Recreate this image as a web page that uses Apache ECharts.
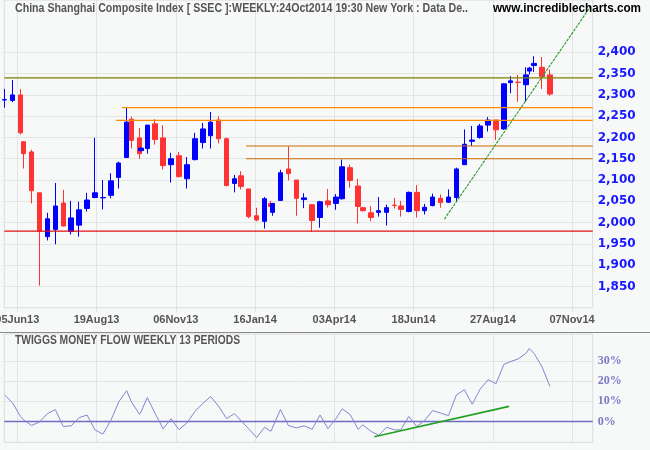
<!DOCTYPE html>
<html><head><meta charset="utf-8">
<script src="https://cdn.jsdelivr.net/npm/echarts@6/dist/echarts.min.js"></script>
<style>html,body{margin:0;padding:0;background:#f7f8f8}#c{width:650px;height:450px}</style>
</head><body><div id="c"></div>
<script>
// ---- data (weekly candles, x = trading-day index of the week's last session) ----
const dayIndex = [0,5,10,12,17,22,27,32,37,42,47,52,57,62,67,72,77,80,85,86,90,95,100,105,110,115,120,125,130,135,140,145,149,154,159,164,168,169,174,179,184,189,194,199,204,209,213,218,223,226,231,236,241,246,250,255,260,265,270,275,280,285,290,295,300,305,310,315,319,324,329,331,334,339,344];
const opens  = [2288,2287,2300,2190,2166,2070,1967,1984,2046,1979,1994,2033,2059,2058,2064,2106,2153,2243,2199,2169,2174,2232,2199,2136,2157,2103,2148,2188,2204,2241,2197,2092,2110,2079,2016,2003,2045,2024,2052,2126,2100,2054,2042,2012,2051,2045,2056,2129,2086,2035,2023,2024,2024,2041,2039,2026,2071,2028,2040,2057,2048,2059,2136,2191,2200,2229,2241,2220,2329,2330,2324,2356,2369,2365,2347];
const closes = [2289,2300,2211,2162,2075,1980,2009,2039,1992,2011,2030,2053,2070,2059,2098,2140,2236,2193,2162,2175,2229,2195,2134,2150,2108,2136,2197,2220,2236,2197,2087,2103,2085,2014,2006,2056,2038,2045,2117,2115,2057,2058,2005,2049,2042,2060,2131,2099,2038,2028,2012,2028,2035,2040,2031,2071,2028,2036,2060,2047,2060,2126,2184,2194,2227,2241,2218,2326,2333,2329,2347,2363,2374,2343,2302];
const lows   = [2270,2283,2207,2127,2045,1852,1958,1949,1991,1972,1967,2026,2057,2031,2057,2080,2153,2174,2150,2167,2162,2183,2125,2094,2106,2080,2146,2174,2174,2186,2085,2071,2078,2010,2003,1986,2033,2016,2052,2099,2016,2034,1979,1988,2035,2030,2054,2082,1998,2026,2003,2014,1993,2033,2014,2024,2012,2019,2038,2035,2046,2048,2136,2180,2197,2214,2194,2218,2304,2284,2284,2348,2354,2314,2298];
const highs  = [2314,2335,2314,2190,2171,2070,2023,2093,2077,2051,2049,2070,2199,2100,2116,2143,2270,2249,2222,2177,2229,2243,2229,2164,2166,2154,2211,2234,2260,2250,2200,2112,2121,2079,2035,2060,2051,2046,2124,2179,2100,2069,2044,2051,2079,2067,2148,2136,2103,2037,2039,2060,2042,2058,2051,2073,2088,2044,2068,2066,2078,2129,2219,2227,2232,2248,2241,2328,2344,2347,2365,2366,2391,2389,2359];
const moneyFlow = [13.2,9.3,2.5,0.8,-2.0,-0.3,3.9,5.9,-2.5,-2.2,1.9,3.2,-4.2,-6.3,0.5,9.8,15.3,9.8,3.6,4.7,11.9,3.9,-3.7,1.4,-4.1,-0.8,4.9,9.0,12.4,7.6,1.4,3.9,0.5,-3.7,-8.0,-2.9,-4.9,-4.6,5.9,-2.0,-3.2,-2.2,-3.9,3.2,-3.6,1.4,6.3,3.4,-3.9,-1.7,-4.9,-6.9,-2.9,-4.2,-4.2,2.5,-2.5,0.5,5.4,4.2,2.9,13.2,15.8,8.6,16.1,20.8,18.8,28.5,29.8,31.2,34.0,36.4,33.9,27.3,17.5];

const xTickDays   = [8,58,108,158,208,258,308,358];
const xTickLabels = ['05Jun13','19Aug13','06Nov13','16Jan14','03Apr14','18Jun14','27Aug14','07Nov14'];
const priceTicks  = [1850,1900,1950,2000,2050,2100,2150,2200,2250,2300,2350,2400];
const flowTicks   = [0,10,20,30];

const levelValues   = [2340, 1980, 2270, 2240, 2180, 2150];
const levelStartDay = [-0.2, -0.2, 74, 70.3, 152.3, 152.3];
const priceTrend = [[277.4, 2008], [369.8, 2508.6]];
const flowTrend  = [[233.2, -7.6], [318.2, 7.5]];

const TITLE = 'China Shanghai Composite Index [ SSEC ]:WEEKLY:24Oct2014 19:30 New York : Data De..';
const SITE = 'www.incrediblecharts.com';
const PANEL2 = 'TWIGGS MONEY FLOW WEEKLY 13 PERIODS';

// ---- chart ----
const SANS = '"Liberation Sans",Arial,sans-serif';
const X_MIN = -0.2, X_MAX = 371;
const grid1 = {left: 4.3, right: 57.3, top: 0, bottom: 142.3};
const grid2 = {left: 4.3, right: 57.3, top: 334, bottom: 7.7};

const measureCtx = document.createElement('canvas').getContext('2d');
function fitScale(text, font, target) {
  measureCtx.font = font;
  return target / measureCtx.measureText(text).width;
}
const titleFont = 'bold 12px ' + SANS;

const candles = dayIndex.map((d, i) => [d, opens[i], closes[i], lows[i], highs[i]]);
const flowData = dayIndex.map((d, i) => [d, moneyFlow[i]]);

const levelColors = ['#808000', '#e01010', '#ff8c00', '#ff8c00', '#cc6a00', '#cc6a00'];
const levelSeries = levelValues.map((v, i) => ({
  type: 'line', xAxisIndex: 0, yAxisIndex: 0, symbol: 'none', silent: true, z: 4,
  data: [[levelStartDay[i], v], [X_MAX, v]],
  lineStyle: {color: levelColors[i], width: 1.2, type: 'solid'}
}));

function xAxisFor(gi, showLabel) {
  return {
    type: 'value', gridIndex: gi, min: X_MIN, max: X_MAX,
    axisLine: {show: false},
    axisTick: {show: true, customValues: xTickDays, length: 4, lineStyle: {color: '#e0e2e2'}},
    axisLabel: {show: showLabel, customValues: xTickDays, margin: 7,
      formatter: v => xTickLabels[xTickDays.indexOf(v)] || '',
      color: '#555', fontFamily: SANS, fontWeight: 'bold', fontSize: 11},
    splitLine: {show: true, lineStyle: {color: '#e3e5e5', width: 1}}
  };
}

const option = {
  animation: false,
  backgroundColor: '#f7f8f8',
  grid: [
    Object.assign({show: true, borderColor: '#dadcdc', borderWidth: 1, backgroundColor: 'transparent', outerBoundsMode: 'none', containLabel: false}, grid1),
    Object.assign({show: true, borderColor: '#dadcdc', borderWidth: 1, backgroundColor: 'transparent', outerBoundsMode: 'none', containLabel: false}, grid2)
  ],
  xAxis: [xAxisFor(0, true), xAxisFor(1, false)],
  yAxis: [
    {type: 'value', gridIndex: 0, position: 'right', min: 1800, max: 2523,
     axisLine: {show: false},
     axisTick: {show: false, customValues: priceTicks},
     axisLabel: {customValues: priceTicks, margin: 5, formatter: v => v.toLocaleString('en-US'),
       color: '#1818ff', fontWeight: 'bold', fontSize: 12, fontFamily: '"DejaVu Sans",Verdana,sans-serif'},
     splitLine: {show: true, lineStyle: {color: '#e3e5e5', width: 1}}},
    {type: 'value', gridIndex: 1, position: 'right', min: -10.4, max: 43.6,
     axisLine: {show: false},
     axisTick: {show: false, customValues: flowTicks},
     axisLabel: {customValues: flowTicks, margin: 5, formatter: v => v + '%',
       color: '#7b7bc6', fontWeight: 'bold', fontSize: 12, fontFamily: '"Liberation Serif","DejaVu Serif",serif'},
     splitLine: {show: true, lineStyle: {color: '#e3e5e5', width: 1}}}
  ],
  series: [
    {type: 'candlestick', xAxisIndex: 0, yAxisIndex: 0, z: 3,
     dimensions: ['day', 'open', 'close', 'lowest', 'highest'],
     encode: {x: 'day', y: ['open', 'close', 'lowest', 'highest']},
     data: candles, barWidth: 5,
     itemStyle: {color: '#0000ff', color0: '#ff3333', borderColor: '#0000ff', borderColor0: '#ff3333', borderWidth: 1}
    }
  ].concat(levelSeries).concat([
    {type: 'line', xAxisIndex: 0, yAxisIndex: 0, data: priceTrend, symbol: 'none', silent: true,
     lineStyle: {color: '#2e9a2e', width: 1.1, type: [3, 1]}, z: 5},
    {type: 'line', xAxisIndex: 1, yAxisIndex: 1, data: [[X_MIN, 0], [X_MAX, 0]], symbol: 'none', silent: true,
     lineStyle: {color: '#6e6ec0', width: 1.4}, z: 2},
    {type: 'line', xAxisIndex: 1, yAxisIndex: 1, data: flowData, symbol: 'none', silent: true,
     lineStyle: {color: '#8585d2', width: 1}, z: 3},
    {type: 'line', xAxisIndex: 1, yAxisIndex: 1, data: flowTrend, symbol: 'none', silent: true,
     lineStyle: {color: '#22a022', width: 1.6}, z: 5}
  ]),
  graphic: [
    {type: 'text', x: 15, y: 3, z: 100, scaleX: fitScale(TITLE, titleFont, 453),
     style: {text: TITLE, fill: '#555', font: titleFont}},
    {type: 'text', x: 493, y: 3, z: 100, scaleX: fitScale(SITE, 'bold 12px ' + SANS, 148),
     style: {text: SITE, fill: '#000', font: 'bold 12px ' + SANS}},
    {type: 'line', z: 100, shape: {x1: 0, y1: 332.5, x2: 650, y2: 332.5}, style: {stroke: '#8c8c8c', lineWidth: 1}},
    {type: 'text', x: 15, y: 335, z: 100, scaleX: fitScale(PANEL2, titleFont, 225),
     style: {text: PANEL2, fill: '#555', font: titleFont}}
  ]
};

const chart = echarts.init(document.getElementById('c'), null, {renderer: 'canvas'});
chart.setOption(option);
</script>
</body></html>
